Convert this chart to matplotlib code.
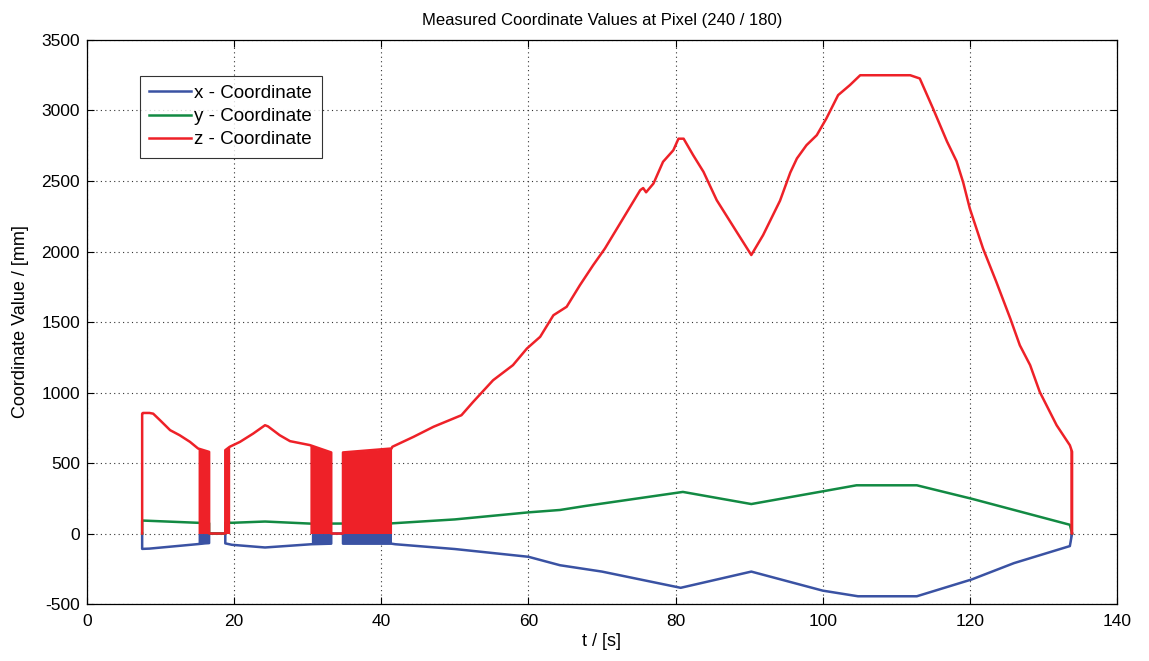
import matplotlib
matplotlib.use("Agg")
import matplotlib.pyplot as plt
import numpy as np

plt.rcParams['font.family'] = ['Liberation Sans', 'DejaVu Sans']
plt.rcParams['axes.unicode_minus'] = False

# ---- data ----
# z-coordinate (red)
z_t = [7.5, 7.5, 7.6, 8.5, 9.0, 9.9, 11.3, 12.6, 14.0, 15.1, 16.6, 16.6, 18.8, 18.8, 19.4,
       20.8, 22.6, 24.2, 24.6, 26.2, 27.6, 30.3, 33.2, 33.2, 34.8, 34.8, 41.4, 41.5,
       44.4, 47.1, 50.9, 52.5, 55.2, 57.9, 59.8, 61.6, 63.4, 65.2, 67.0, 68.8, 70.4,
       75.2, 75.6, 76.0, 77.0, 78.3, 79.7, 80.4, 81.1, 82.4, 83.8, 85.6, 88.3, 90.3,
       91.9, 94.2, 95.6, 96.5, 97.8, 99.2, 100.5, 102.1, 103.7, 105.1, 111.9, 113.2,
       115.0, 116.9, 118.2, 119.1, 120.0, 121.8, 123.6, 125.5, 126.8, 128.2, 129.5,
       131.8, 133.6, 133.9, 133.9]
z_v = [0, 850, 855, 855, 850, 805, 733, 697, 650, 603, 579, 0, 0, 591, 615,
       650, 709, 768, 760, 697, 655, 627, 575, 0, 0, 575, 603, 615,
       686, 757, 839, 934, 1087, 1194, 1312, 1395, 1548, 1608, 1761, 1903, 2021,
       2435, 2450, 2420, 2482, 2636, 2718, 2800, 2800, 2683, 2565, 2364, 2140, 1975,
       2116, 2360, 2560, 2660, 2754, 2825, 2943, 3109, 3180, 3250, 3250, 3227,
       3014, 2780, 2640, 2490, 2305, 2021, 1785, 1525, 1335, 1194, 1005,
       768, 626, 580, 0]

# y-coordinate (green)
y_t = [7.5, 7.5, 8.5, 15.1, 16.6, 16.6, 18.8, 18.8, 19.7, 24.2, 30.5, 41.4, 50.0,
       60.0, 64.3, 67.7, 81.0, 90.3, 100.1, 104.6, 112.8, 120.3, 133.6, 133.9]
y_v = [0, 92, 90, 76, 74, 0, 0, 78, 76, 85, 70, 72, 100,
       150, 167, 195, 295, 209, 300, 342, 342, 246, 62, 0]

# x-coordinate (blue)
x_t = [7.5, 7.5, 8.5, 15.1, 16.0, 16.6, 16.6, 18.8, 18.8, 19.7, 24.2, 30.5, 33.2, 33.2,
       34.8, 34.8, 41.4, 41.9, 50.0, 60.0, 64.3, 70.0, 80.7, 90.3, 100.0, 104.8,
       112.8, 120.3, 126.0, 133.6, 133.9]
x_v = [0, -109, -107, -75, -70, -68, 0, 0, -70, -80, -99, -76, -72, 0,
       0, -72, -72, -76, -110, -165, -225, -270, -385, -270, -405, -445,
       -445, -325, -210, -89, 0]

# intervals where the sensor flickers between value and zero
flick_start = [15.1, 18.8, 30.3, 34.8, 133.6]
flick_end = [16.6, 19.4, 33.2, 41.4, 133.9]

title = "Measured Coordinate Values at Pixel (240 / 180)"
labels = ["x - Coordinate", "y - Coordinate", "z - Coordinate"]
c_x, c_y, c_z = "#3a52a3", "#128a43", "#ee2128"

fig = plt.figure(figsize=(11.49, 6.61), dpi=100)
ax = fig.add_axes([0.0757, 0.0862, 0.8964, 0.8533])

lx, = ax.plot(x_t, x_v, color=c_x, lw=1.8, label=labels[0], zorder=3)
ly, = ax.plot(y_t, y_v, color=c_y, lw=1.8, label=labels[1], zorder=4)
lz, = ax.plot(z_t, z_v, color=c_z, lw=1.8, label=labels[2], zorder=6)

xt = np.array(x_t, dtype=float)
xv = np.array(x_v, dtype=float)
zt = np.array(z_t, dtype=float)
zv = np.array(z_v, dtype=float)
for s, e in zip(flick_start, flick_end):
    m = (xt >= s) & (xt <= e)
    ax.fill_between(xt[m], 0, xv[m], color=c_x, lw=0, zorder=3)
    m = (zt >= s) & (zt <= e)
    ax.fill_between(zt[m], 0, zv[m], color=c_z, lw=0, zorder=5)

ax.set_xlim(0, 140)
ax.set_ylim(-500, 3500)
ax.set_xticks(np.arange(0, 141, 20))
ax.set_yticks(np.arange(-500, 3501, 500))
ax.grid(True, linestyle=(0, (1, 3)), color="#333333", lw=0.8)
ax.tick_params(direction="in", top=True, right=True, labelsize=12.5, length=5, width=0.8)
ax.tick_params(axis="x", pad=7)
ax.tick_params(axis="y", pad=5)
for sp in ax.spines.values():
    sp.set_linewidth(0.9)
ax.set_xlabel("t / [s]", fontsize=13, labelpad=3)
ax.set_ylabel("Coordinate Value / [mm]", fontsize=13, labelpad=9)
ax.set_title(title, fontsize=12, pad=11)

leg = ax.legend(handles=[lx, ly, lz], loc="upper left", bbox_to_anchor=(0.0515, 0.937),
                fontsize=13.5, frameon=True, fancybox=False, edgecolor="black",
                handlelength=2.2, handletextpad=0.2, labelspacing=0.32,
                borderpad=0.5, borderaxespad=0)
leg.get_frame().set_linewidth(0.8)

fig.savefig("out.png", dpi=100)
